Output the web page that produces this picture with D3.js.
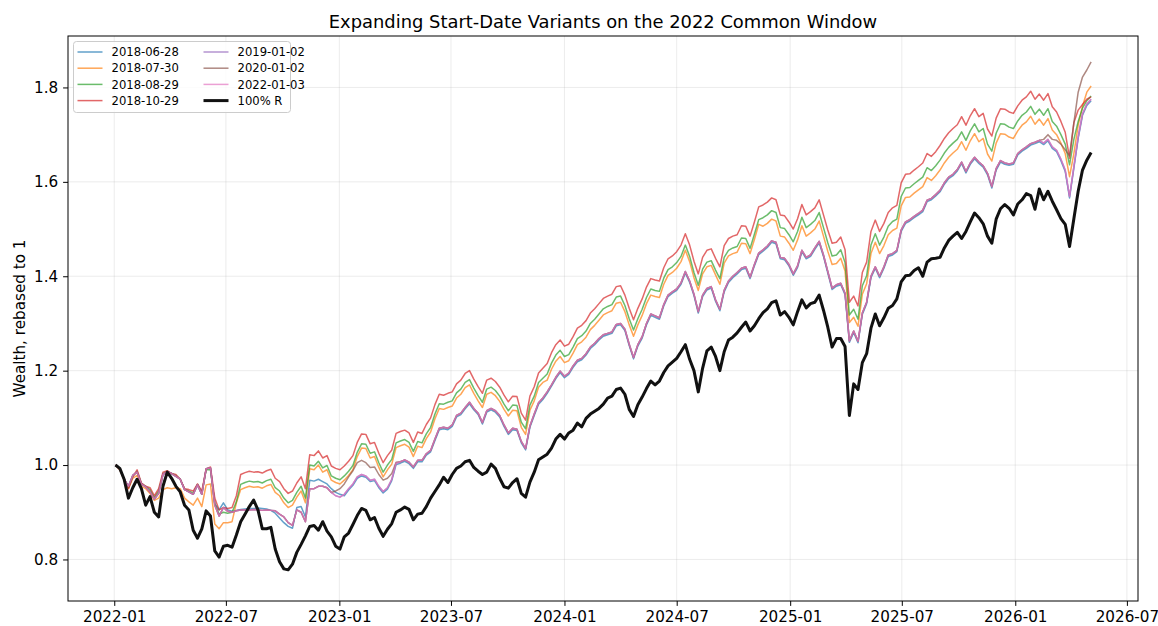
<!DOCTYPE html>
<html><head><meta charset="utf-8">
<script src="https://cdn.jsdelivr.net/npm/d3@7/dist/d3.min.js"></script>
<style>body{margin:0;background:#fff} text{font-family:"DejaVu Sans",sans-serif;fill:#000}</style>
</head><body><svg id="c" width="1158" height="626"></svg>
<script>
// ---- data (weekly observations, rebased to 1 at the 2022 common window start) ----
const startDate = "2022-01-03";
const stepDays = 7;
const seriesLabels = ["2018-06-28","2018-07-30","2018-08-29","2018-10-29","2019-01-02","2020-01-02","2022-01-03","100% R"];
const xTickLabels = ["2022-01","2022-07","2023-01","2023-07","2024-01","2024-07","2025-01","2025-07","2026-01","2026-07"];
const yTickValues = [0.8,1.0,1.2,1.4,1.6,1.8];

const s20180628 = [1.000,0.992,0.970,0.955,0.978,0.985,0.960,0.954,0.943,0.928,
0.940,0.980,0.986,0.982,0.976,0.970,0.948,0.943,0.938,0.958,
0.938,0.992,0.994,0.918,0.905,0.920,0.905,0.902,0.904,0.906,
0.907,0.908,0.908,0.909,0.908,0.907,0.904,0.898,0.888,0.878,
0.870,0.866,0.910,0.912,0.890,0.968,0.966,0.970,0.965,0.960,
0.950,0.942,0.938,0.935,0.947,0.957,0.972,0.977,0.974,0.965,
0.967,0.952,0.941,0.949,0.967,1.001,1.004,1.008,1.003,0.993,
1.007,1.007,1.021,1.028,1.052,1.075,1.077,1.075,1.082,1.102,
1.107,1.119,1.130,1.117,1.107,1.087,1.112,1.117,1.112,1.102,
1.082,1.065,1.075,1.073,1.047,1.032,1.080,1.105,1.129,1.139,
1.152,1.167,1.183,1.196,1.185,1.192,1.207,1.219,1.223,1.233,
1.247,1.255,1.265,1.273,1.276,1.279,1.295,1.297,1.285,1.253,
1.225,1.252,1.269,1.297,1.317,1.313,1.309,1.337,1.357,1.364,
1.370,1.383,1.407,1.387,1.359,1.322,1.357,1.371,1.375,1.347,
1.327,1.367,1.387,1.397,1.405,1.414,1.417,1.395,1.422,1.446,
1.453,1.461,1.472,1.469,1.437,1.435,1.422,1.402,1.419,1.452,
1.437,1.442,1.457,1.471,1.442,1.407,1.372,1.379,1.382,1.361,
1.260,1.281,1.259,1.319,1.342,1.397,1.417,1.397,1.417,1.442,
1.445,1.452,1.495,1.512,1.517,1.524,1.530,1.537,1.558,1.562,
1.570,1.579,1.595,1.607,1.613,1.623,1.639,1.619,1.637,1.649,
1.639,1.631,1.615,1.587,1.625,1.642,1.637,1.635,1.637,1.657,
1.665,1.671,1.678,1.681,1.685,1.679,1.687,1.671,1.664,1.645,
1.622,1.566,1.629,1.692,1.741,1.762,1.772];

const s20180730 = [1.000,0.990,0.968,0.950,0.972,0.978,0.955,0.950,0.940,0.925,
0.930,0.948,0.952,0.950,0.952,0.950,0.930,0.922,0.915,0.930,
0.912,0.958,0.960,0.875,0.865,0.878,0.878,0.880,0.920,0.948,
0.952,0.955,0.953,0.954,0.951,0.956,0.959,0.942,0.935,0.920,
0.910,0.915,0.932,0.945,0.920,0.992,0.990,1.000,0.985,0.990,
0.968,0.963,0.960,0.968,0.978,0.990,1.018,1.036,1.035,1.015,
1.018,0.995,0.975,0.990,1.002,1.037,1.041,1.044,1.038,1.018,
1.040,1.037,1.056,1.070,1.098,1.120,1.118,1.122,1.125,1.142,
1.150,1.164,1.170,1.152,1.136,1.122,1.150,1.154,1.147,1.135,
1.118,1.104,1.116,1.115,1.080,1.065,1.116,1.136,1.165,1.175,
1.180,1.203,1.220,1.230,1.217,1.221,1.237,1.255,1.261,1.271,
1.287,1.296,1.307,1.318,1.323,1.327,1.343,1.345,1.325,1.297,
1.273,1.297,1.317,1.342,1.360,1.357,1.355,1.383,1.402,1.408,
1.417,1.431,1.455,1.431,1.397,1.370,1.405,1.420,1.423,1.403,
1.383,1.428,1.443,1.448,1.451,1.470,1.469,1.448,1.478,1.510,
1.506,1.512,1.521,1.517,1.485,1.483,1.470,1.455,1.477,1.507,
1.485,1.492,1.500,1.517,1.485,1.453,1.425,1.427,1.438,1.411,
1.302,1.313,1.294,1.362,1.384,1.448,1.472,1.448,1.465,1.488,
1.497,1.502,1.549,1.567,1.568,1.576,1.583,1.590,1.609,1.603,
1.613,1.625,1.640,1.652,1.661,1.669,1.685,1.667,1.687,1.702,
1.685,1.692,1.659,1.644,1.682,1.702,1.701,1.695,1.692,1.708,
1.720,1.727,1.739,1.722,1.733,1.720,1.734,1.710,1.700,1.682,
1.660,1.611,1.660,1.720,1.760,1.790,1.803];

const s20180829 = [1.000,0.991,0.971,0.952,0.976,0.987,0.961,0.955,0.948,0.931,
0.945,0.982,0.987,0.982,0.978,0.970,0.949,0.945,0.941,0.959,
0.941,0.990,0.990,0.918,0.896,0.900,0.898,0.900,0.922,0.959,
0.963,0.966,0.964,0.965,0.962,0.967,0.970,0.952,0.945,0.930,
0.920,0.925,0.942,0.955,0.930,1.000,0.998,1.008,0.994,0.999,
0.977,0.972,0.969,0.977,0.987,0.999,1.027,1.045,1.044,1.025,
1.028,1.005,0.985,1.000,1.012,1.047,1.051,1.054,1.048,1.029,
1.050,1.047,1.066,1.080,1.108,1.130,1.129,1.133,1.136,1.153,
1.161,1.175,1.181,1.163,1.147,1.133,1.161,1.165,1.158,1.146,
1.129,1.115,1.127,1.126,1.091,1.077,1.127,1.146,1.175,1.184,
1.193,1.216,1.233,1.243,1.230,1.234,1.250,1.268,1.274,1.284,
1.300,1.309,1.320,1.331,1.336,1.340,1.356,1.358,1.338,1.310,
1.286,1.310,1.330,1.355,1.373,1.370,1.368,1.396,1.414,1.420,
1.429,1.442,1.466,1.442,1.408,1.381,1.415,1.430,1.433,1.413,
1.395,1.440,1.455,1.460,1.463,1.481,1.480,1.459,1.489,1.520,
1.524,1.530,1.539,1.535,1.503,1.501,1.488,1.473,1.495,1.525,
1.503,1.510,1.518,1.535,1.503,1.471,1.443,1.445,1.456,1.429,
1.318,1.330,1.309,1.380,1.401,1.466,1.490,1.466,1.483,1.506,
1.516,1.521,1.569,1.587,1.588,1.596,1.603,1.610,1.630,1.624,
1.634,1.646,1.661,1.673,1.682,1.690,1.706,1.688,1.708,1.723,
1.706,1.713,1.680,1.665,1.703,1.723,1.722,1.716,1.713,1.729,
1.741,1.748,1.760,1.743,1.754,1.741,1.755,1.728,1.718,1.700,
1.680,1.636,1.690,1.728,1.756,1.772,1.782];

const s20181029 = [1.000,0.990,0.972,0.950,0.975,0.990,0.962,0.955,0.952,0.935,
0.950,0.985,0.988,0.982,0.980,0.970,0.950,0.948,0.945,0.960,
0.945,0.992,0.996,0.930,0.905,0.910,0.908,0.910,0.935,0.980,
0.984,0.987,0.985,0.986,0.983,0.988,0.991,0.972,0.965,0.950,
0.940,0.945,0.962,0.975,0.950,1.022,1.020,1.030,1.015,1.020,
0.998,0.993,0.990,0.998,1.008,1.020,1.048,1.066,1.065,1.045,
1.048,1.025,1.005,1.020,1.032,1.067,1.071,1.074,1.068,1.048,
1.070,1.067,1.086,1.100,1.128,1.150,1.148,1.152,1.155,1.172,
1.180,1.194,1.200,1.182,1.166,1.152,1.180,1.184,1.177,1.165,
1.148,1.134,1.146,1.145,1.110,1.095,1.146,1.166,1.195,1.205,
1.215,1.238,1.255,1.265,1.252,1.256,1.272,1.290,1.296,1.306,
1.322,1.331,1.342,1.353,1.358,1.362,1.378,1.380,1.360,1.332,
1.308,1.332,1.352,1.377,1.395,1.392,1.390,1.418,1.437,1.443,
1.452,1.466,1.490,1.466,1.432,1.405,1.440,1.455,1.458,1.438,
1.420,1.465,1.480,1.485,1.488,1.507,1.506,1.485,1.515,1.547,
1.551,1.557,1.566,1.562,1.530,1.528,1.515,1.500,1.522,1.552,
1.530,1.537,1.545,1.562,1.530,1.498,1.470,1.472,1.483,1.456,
1.345,1.358,1.337,1.408,1.430,1.495,1.519,1.495,1.512,1.535,
1.545,1.550,1.598,1.616,1.617,1.625,1.632,1.640,1.660,1.654,
1.664,1.677,1.692,1.704,1.713,1.721,1.738,1.720,1.740,1.755,
1.738,1.745,1.712,1.697,1.735,1.755,1.754,1.748,1.745,1.761,
1.773,1.780,1.792,1.775,1.786,1.773,1.787,1.759,1.748,1.728,
1.705,1.650,1.725,1.752,1.764,1.775,1.780];

const s20190102 = [1.000,0.992,0.970,0.955,0.978,0.985,0.960,0.954,0.943,0.928,
0.940,0.980,0.986,0.982,0.976,0.970,0.948,0.943,0.938,0.958,
0.938,0.992,0.994,0.915,0.892,0.910,0.902,0.900,0.903,0.905,
0.905,0.905,0.906,0.905,0.904,0.905,0.904,0.903,0.896,0.890,
0.878,0.872,0.905,0.900,0.880,0.950,0.950,0.955,0.955,0.952,
0.942,0.935,0.932,0.938,0.950,0.960,0.975,0.980,0.977,0.968,
0.970,0.955,0.944,0.952,0.970,1.004,1.007,1.011,1.006,0.996,
1.010,1.010,1.024,1.031,1.055,1.078,1.080,1.078,1.085,1.105,
1.110,1.122,1.133,1.120,1.110,1.090,1.115,1.120,1.115,1.105,
1.085,1.068,1.078,1.076,1.050,1.035,1.083,1.108,1.132,1.142,
1.155,1.170,1.186,1.199,1.188,1.195,1.210,1.222,1.226,1.236,
1.250,1.258,1.268,1.276,1.279,1.282,1.298,1.300,1.288,1.256,
1.228,1.255,1.272,1.300,1.320,1.316,1.312,1.340,1.360,1.367,
1.373,1.386,1.410,1.390,1.362,1.325,1.360,1.374,1.378,1.350,
1.330,1.370,1.390,1.400,1.408,1.417,1.420,1.398,1.425,1.449,
1.456,1.464,1.475,1.472,1.440,1.438,1.425,1.405,1.422,1.455,
1.440,1.445,1.460,1.474,1.445,1.410,1.375,1.382,1.385,1.364,
1.263,1.284,1.262,1.322,1.345,1.400,1.420,1.400,1.420,1.445,
1.448,1.455,1.498,1.515,1.520,1.527,1.533,1.540,1.561,1.565,
1.573,1.582,1.598,1.610,1.616,1.626,1.642,1.622,1.640,1.652,
1.642,1.634,1.618,1.590,1.628,1.645,1.640,1.638,1.640,1.660,
1.668,1.674,1.681,1.684,1.688,1.682,1.690,1.674,1.667,1.648,
1.625,1.569,1.632,1.695,1.744,1.765,1.775];

const s20200102 = [1.000,0.992,0.970,0.955,0.978,0.985,0.960,0.954,0.943,0.928,
0.940,0.980,0.986,0.982,0.976,0.970,0.948,0.943,0.938,0.958,
0.938,0.992,0.994,0.915,0.892,0.910,0.902,0.900,0.903,0.905,
0.905,0.905,0.906,0.905,0.904,0.905,0.904,0.903,0.896,0.890,
0.878,0.872,0.905,0.900,0.880,0.950,0.950,0.955,0.955,0.952,
0.942,0.945,0.950,0.960,0.975,0.988,1.005,1.010,1.005,0.995,
0.996,0.980,0.968,0.972,0.982,1.006,1.007,1.011,1.006,0.996,
1.010,1.010,1.024,1.031,1.055,1.078,1.080,1.078,1.085,1.105,
1.110,1.122,1.133,1.120,1.110,1.090,1.115,1.120,1.115,1.105,
1.085,1.068,1.078,1.076,1.050,1.035,1.083,1.108,1.132,1.142,
1.155,1.170,1.186,1.199,1.188,1.195,1.210,1.222,1.226,1.236,
1.250,1.258,1.268,1.276,1.279,1.282,1.298,1.300,1.288,1.256,
1.228,1.255,1.272,1.300,1.320,1.316,1.312,1.340,1.360,1.367,
1.373,1.386,1.410,1.390,1.362,1.325,1.360,1.374,1.378,1.350,
1.330,1.370,1.390,1.400,1.408,1.417,1.420,1.398,1.425,1.449,
1.456,1.464,1.475,1.472,1.440,1.438,1.425,1.405,1.422,1.455,
1.440,1.445,1.460,1.474,1.445,1.410,1.375,1.382,1.385,1.364,
1.263,1.284,1.262,1.322,1.345,1.400,1.420,1.400,1.420,1.445,
1.448,1.455,1.498,1.515,1.520,1.527,1.533,1.540,1.561,1.565,
1.573,1.582,1.598,1.610,1.616,1.626,1.642,1.622,1.640,1.652,
1.642,1.634,1.618,1.590,1.628,1.645,1.640,1.638,1.640,1.660,
1.668,1.674,1.681,1.684,1.688,1.690,1.700,1.690,1.688,1.680,
1.668,1.655,1.725,1.790,1.822,1.837,1.854];

const s20220103 = [1.000,0.992,0.970,0.955,0.978,0.985,0.960,0.954,0.943,0.928,
0.940,0.980,0.986,0.982,0.976,0.970,0.948,0.943,0.938,0.958,
0.938,0.992,0.994,0.915,0.892,0.910,0.902,0.900,0.903,0.905,
0.905,0.905,0.906,0.905,0.904,0.905,0.904,0.903,0.896,0.890,
0.878,0.872,0.905,0.900,0.880,0.950,0.950,0.955,0.955,0.952,
0.942,0.935,0.932,0.938,0.950,0.960,0.975,0.980,0.977,0.968,
0.970,0.955,0.944,0.952,0.970,1.004,1.007,1.011,1.006,0.996,
1.010,1.010,1.024,1.031,1.055,1.078,1.080,1.078,1.085,1.105,
1.110,1.122,1.133,1.120,1.110,1.090,1.115,1.120,1.115,1.105,
1.085,1.068,1.078,1.076,1.050,1.035,1.083,1.108,1.132,1.142,
1.155,1.170,1.186,1.199,1.188,1.195,1.210,1.222,1.226,1.236,
1.250,1.258,1.268,1.276,1.279,1.282,1.298,1.300,1.288,1.256,
1.228,1.255,1.272,1.300,1.320,1.316,1.312,1.340,1.360,1.367,
1.373,1.386,1.410,1.390,1.362,1.325,1.360,1.374,1.378,1.350,
1.330,1.370,1.390,1.400,1.408,1.417,1.420,1.398,1.425,1.449,
1.456,1.464,1.475,1.472,1.440,1.438,1.425,1.405,1.422,1.455,
1.440,1.445,1.460,1.474,1.445,1.410,1.375,1.382,1.385,1.364,
1.263,1.284,1.262,1.322,1.345,1.400,1.420,1.400,1.420,1.445,
1.448,1.455,1.498,1.515,1.520,1.527,1.533,1.540,1.561,1.565,
1.573,1.582,1.598,1.610,1.616,1.626,1.642,1.622,1.640,1.652,
1.642,1.634,1.618,1.590,1.628,1.645,1.640,1.638,1.640,1.660,
1.668,1.674,1.681,1.684,1.688,1.682,1.690,1.674,1.667,1.648,
1.625,1.569,1.632,1.695,1.744,1.765,1.775];

const s100R = [1.000,0.993,0.970,0.930,0.952,0.970,0.950,0.915,0.933,0.900,
0.890,0.955,0.985,0.972,0.955,0.943,0.915,0.905,0.862,0.845,
0.865,0.903,0.892,0.818,0.805,0.828,0.830,0.826,0.852,0.880,
0.896,0.912,0.926,0.905,0.865,0.865,0.868,0.822,0.795,0.780,
0.778,0.790,0.815,0.832,0.850,0.870,0.872,0.862,0.880,0.860,
0.848,0.828,0.822,0.848,0.856,0.874,0.893,0.908,0.904,0.884,
0.889,0.866,0.849,0.864,0.876,0.900,0.905,0.911,0.906,0.884,
0.896,0.898,0.912,0.930,0.944,0.958,0.974,0.963,0.980,0.993,
0.998,1.007,1.010,0.995,0.987,0.980,0.985,1.002,0.993,0.972,
0.954,0.951,0.963,0.971,0.940,0.932,0.964,0.985,1.011,1.017,
1.023,1.036,1.055,1.065,1.055,1.068,1.074,1.089,1.081,1.099,
1.108,1.114,1.120,1.129,1.142,1.146,1.160,1.163,1.150,1.118,
1.103,1.128,1.144,1.162,1.178,1.170,1.178,1.196,1.210,1.218,
1.226,1.240,1.255,1.224,1.200,1.155,1.205,1.242,1.250,1.230,
1.200,1.240,1.265,1.271,1.280,1.292,1.303,1.284,1.295,1.310,
1.323,1.331,1.344,1.348,1.318,1.325,1.313,1.297,1.325,1.350,
1.333,1.342,1.345,1.360,1.328,1.292,1.250,1.268,1.268,1.251,
1.105,1.172,1.160,1.217,1.236,1.290,1.320,1.295,1.312,1.332,
1.338,1.352,1.388,1.401,1.402,1.412,1.418,1.400,1.430,1.437,
1.438,1.440,1.460,1.476,1.485,1.493,1.480,1.495,1.515,1.534,
1.524,1.511,1.485,1.470,1.521,1.543,1.552,1.544,1.530,1.553,
1.562,1.575,1.571,1.542,1.585,1.562,1.580,1.559,1.541,1.522,
1.510,1.463,1.522,1.580,1.625,1.646,1.662];

const seriesValues = [s20180628,s20180730,s20180829,s20181029,s20190102,s20200102,s20220103,s100R];
const seriesColors = ["#1f77b4","#ff7f0e","#2ca02c","#d62728","#9467bd","#8c564b","#e377c2","#111111"];

// ---- chart ----
const svg = d3.select("#c");
const m = {left:68, right:1138, top:36, bottom:601};
const parseDay = d3.timeParse("%Y-%m-%d");
const parseMonth = d3.timeParse("%Y-%m");
const t0 = parseDay(startDate);
const dateAt = i => d3.timeDay.offset(t0, i*stepDays);

const x = d3.scaleTime().domain([new Date(2021,9,18), new Date(2026,6,19)]).range([m.left, m.right]);
const y = d3.scaleLinear().domain([0.712, 1.909]).range([m.bottom, m.top]);

const xTicks = xTickLabels.map(parseMonth);

// grid
const g = svg.append("g");
g.selectAll("line.gx").data(xTicks).enter().append("line")
  .attr("x1", d=>x(d)).attr("x2", d=>x(d)).attr("y1", m.top).attr("y2", m.bottom)
  .attr("stroke","#b0b0b0").attr("stroke-opacity",0.3).attr("stroke-width",0.8);
g.selectAll("line.gy").data(yTickValues).enter().append("line")
  .attr("x1", m.left).attr("x2", m.right).attr("y1", d=>y(d)).attr("y2", d=>y(d))
  .attr("stroke","#b0b0b0").attr("stroke-opacity",0.3).attr("stroke-width",0.8);

// lines
const line = d3.line().x((d,i)=>x(dateAt(i))).y(d=>y(d));
seriesValues.forEach((vals, k) => {
  const isR = k === seriesValues.length - 1;
  svg.append("path").datum(vals)
    .attr("d", line)
    .attr("fill","none")
    .attr("stroke", seriesColors[k])
    .attr("stroke-width", isR ? 3 : 1.5)
    .attr("stroke-opacity", isR ? 1 : 0.7)
    .attr("stroke-linejoin","round");
});

// frame
svg.append("rect").attr("x", m.left).attr("y", m.top)
  .attr("width", m.right-m.left).attr("height", m.bottom-m.top)
  .attr("fill","none").attr("stroke","#000").attr("stroke-width",1);

// axes
const xAxis = d3.axisBottom(x).tickValues(xTicks).tickFormat(d3.timeFormat("%Y-%m")).tickSize(4.9).tickPadding(4.9).tickSizeOuter(0);
const gx = svg.append("g").attr("transform",`translate(0,${m.bottom})`).call(xAxis);
const yAxis = d3.axisLeft(y).tickValues(yTickValues).tickFormat(d3.format(".1f")).tickSize(4.9).tickPadding(4.9).tickSizeOuter(0);
const gy = svg.append("g").attr("transform",`translate(${m.left},0)`).call(yAxis);
[gx, gy].forEach(a => {
  a.select(".domain").remove();
  a.selectAll("line").attr("stroke","#000").attr("stroke-width",1);
  a.selectAll("text").attr("font-size","15.2px").attr("font-family","DejaVu Sans").attr("fill","#000");
});

// title & labels
svg.append("text").attr("x", (m.left+m.right)/2).attr("y", 27.5)
  .attr("text-anchor","middle").attr("font-size","17.9px").text("Expanding Start-Date Variants on the 2022 Common Window");
svg.append("text").attr("transform", `translate(25,${(m.top+m.bottom)/2}) rotate(-90)`)
  .attr("text-anchor","middle").attr("font-size","15.2px").text("Wealth, rebased to 1");

// legend
const lg = svg.append("g");
lg.append("rect").attr("x",73.5).attr("y",41.5).attr("width",217).attr("height",71).attr("rx",3)
  .attr("fill","#fff").attr("fill-opacity",0.8).attr("stroke","#cccccc").attr("stroke-width",1);
seriesLabels.forEach((lab, k) => {
  const col = Math.floor(k/4), row = k%4;
  const lx = col === 0 ? 77.5 : 203.5;
  const cy = 52 + row*16.2;
  const isR = k === seriesLabels.length - 1;
  lg.append("line").attr("x1",lx).attr("x2",lx+25).attr("y1",cy).attr("y2",cy)
    .attr("stroke",seriesColors[k]).attr("stroke-width", isR ? 3 : 1.5).attr("stroke-opacity", isR ? 1 : 0.7);
  lg.append("text").attr("x",lx+34).attr("y",cy).attr("dy","0.36em")
    .attr("font-size","11.6px").text(lab);
});
</script>
</body></html>
